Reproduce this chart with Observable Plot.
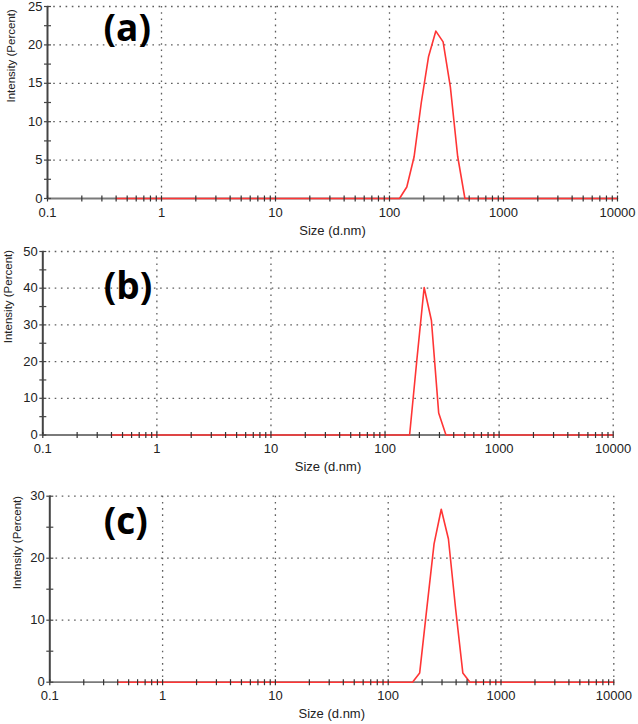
<!DOCTYPE html>
<html><head><meta charset="utf-8">
<script src="https://cdn.jsdelivr.net/npm/d3@7"></script>
<script src="https://cdn.jsdelivr.net/npm/@observablehq/plot@0.6"></script>
<style>
body{margin:0;background:#fff;}
#chart{width:638px;height:724px;overflow:hidden;}
#chart svg{display:block;}
</style>
</head><body><div id="chart"></div>
<script>
// ---- data ----
const xTickLabels = [0.1, 1, 10, 100, 1000, 10000];
const xLabel = "Size (d.nm)";
const yLabel = "Intensity (Percent)";
const panelLabels = ["(a)", "(b)", "(c)"];

const sizesA = [0.4, 122.4, 141.8, 164.2, 190.1, 220.2, 255.0, 295.3, 342.0, 396.1, 458.7, 10000];
const intensityA = [0, 0, 1.5, 5.4, 12.5, 18.5, 21.8, 20.4, 14.5, 5.5, 0, 0];
const yTicksA = [0, 5, 10, 15, 20, 25];
const yMinorA = [2.5, 7.5, 12.5, 17.5, 22.5];

const sizesB = [0.4, 164.2, 190.1, 220.2, 255.0, 295.3, 342.0, 10000];
const intensityB = [0, 0, 20.5, 40.2, 31.2, 6.0, 0, 0];
const yTicksB = [0, 10, 20, 30, 40, 50];
const yMinorB = [5, 15, 25, 35, 45];

const sizesC = [0.4, 164.2, 190.1, 220.2, 255.0, 295.3, 342.0, 396.1, 458.7, 531.2, 10000];
const intensityC = [0, 0, 1.5, 12.0, 22.3, 27.9, 23.1, 11.8, 1.5, 0, 0];
const yTicksC = [0, 10, 20, 30];
const yMinorC = [5, 15, 25];

// ---- rendering ----
const vTick = {draw(ctx){ ctx.moveTo(0, -3); ctx.lineTo(0, 3); }};
const hTick = {draw(ctx){ ctx.moveTo(-3.5, 0); ctx.lineTo(3.5, 0); }};
const xMinor = d3.scaleLog().domain([0.1, 10000]).ticks();

function panel(cfg) {
  const data = cfg.sizes.map((s, i) => ({size: s, v: cfg.values[i]}));
  const yMax = cfg.yTicks[cfg.yTicks.length - 1];
  return Plot.plot({
    width: 638,
    height: cfg.height,
    marginTop: cfg.mt, marginBottom: cfg.mb, marginLeft: cfg.ml, marginRight: cfg.mr,
    style: {fontFamily: "'Liberation Sans', Arial, sans-serif", fontSize: "13px", color: "#222", background: "#fff"},
    x: {type: "log", domain: [0.1, 10000]},
    y: {domain: [0, yMax]},
    marks: [
      Plot.gridX({ticks: xTickLabels.slice(1), stroke: "#555", strokeOpacity: 0.95, strokeWidth: 1.3, strokeDasharray: "1.6,4.6"}),
      Plot.gridY({ticks: cfg.yTicks.slice(1), stroke: "#555", strokeOpacity: 0.95, strokeWidth: 1.3, strokeDasharray: "1.6,4.6"}),
      Plot.ruleY([0], {stroke: "#7a7a7a", strokeWidth: 1.8}),
      Plot.ruleX([0.1], {stroke: "#444", strokeWidth: 2}),
      Plot.line(data, {x: "size", y: "v", stroke: "#ff3535", strokeWidth: 1.6}),
      Plot.dot(xMinor, {x: d => d, y: 0, symbol: vTick, fill: "none", stroke: "#333", strokeWidth: 1.2}),
      Plot.dot(cfg.yTicks.concat(cfg.yMinor), {x: 0.1, y: d => d, symbol: hTick, fill: "none", stroke: "#444", strokeWidth: 1.2}),
      Plot.axisX({ticks: xTickLabels, tickSize: 0, tickPadding: 9, tickFormat: d => String(d), label: null, fontSize: 13}),
      Plot.axisY({ticks: cfg.yTicks, tickSize: 0, tickPadding: 5, label: null, fontSize: 13}),
      Plot.text([yLabel], {text: d => d, frameAnchor: "left", dx: cfg.ylx, rotate: -90, fontSize: 11.5, fill: "#222", lineAnchor: "middle"}),
      Plot.text([xLabel], {text: d => d, frameAnchor: "bottom", dy: cfg.xly, fontSize: 13, fill: "#222", lineAnchor: "middle"}),
      Plot.text([cfg.label], {text: d => d, frameAnchor: "top-left", dx: cfg.ldx, dy: cfg.ldy, textAnchor: "start", lineAnchor: "middle",
        fontSize: 37, fontWeight: 700, fontFamily: "'Open Sans', sans-serif", fill: "#000"})
    ]
  });
}

const chart = document.getElementById("chart");
chart.append(panel({sizes: sizesA, values: intensityA, yTicks: yTicksA, yMinor: yMinorA, label: panelLabels[0],
  height: 240, mt: 6, mb: 42, ml: 47, mr: 21, ylx: -36, xly: 32, ldx: 56, ldy: 23}));
chart.append(panel({sizes: sizesB, values: intensityB, yTicks: yTicksB, yMinor: yMinorB, label: panelLabels[1],
  height: 235, mt: 11, mb: 40.5, ml: 42.3, mr: 25.3, ylx: -34, xly: 32, ldx: 61, ldy: 36}));
chart.append(panel({sizes: sizesC, values: intensityC, yTicks: yTicksC, yMinor: yMinorC, label: panelLabels[2],
  height: 249, mt: 20.7, mb: 42.3, ml: 49.3, mr: 24.7, ylx: -32, xly: 32, ldx: 54, ldy: 26}));
</script>
</body></html>
